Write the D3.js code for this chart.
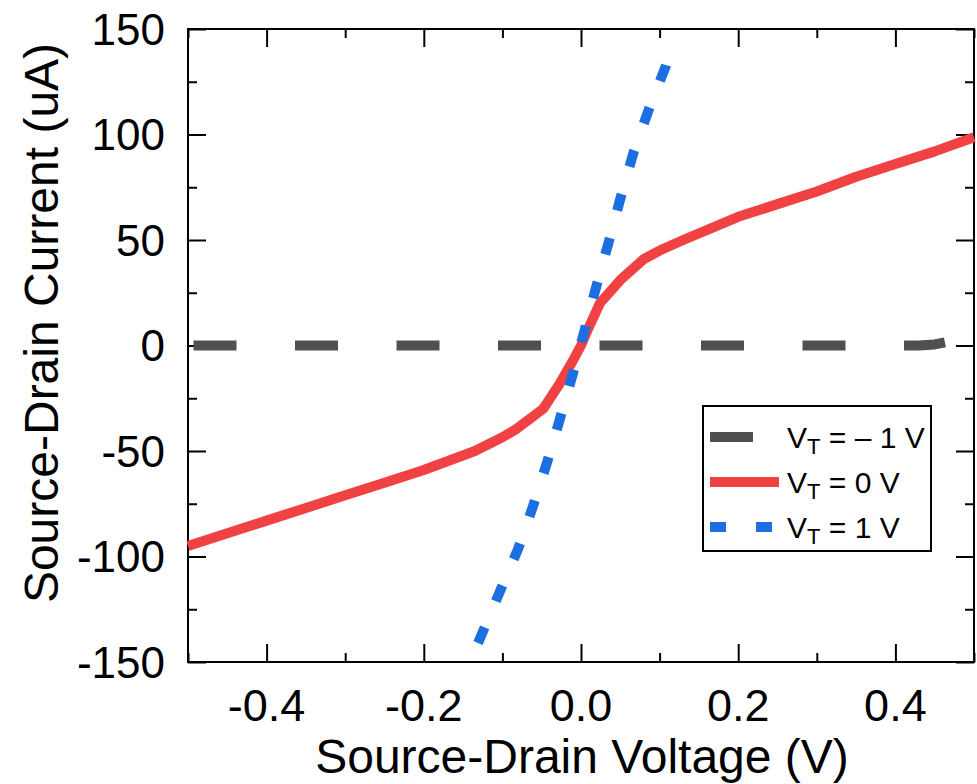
<!DOCTYPE html>
<html>
<head>
<meta charset="utf-8">
<script src="https://cdn.jsdelivr.net/npm/d3@7"></script>
<style>
  body { margin: 0; background: #fff; }
  svg { display: block; font-family: Arial, "Liberation Sans", sans-serif; }
</style>
</head>
<body>
<svg width="977" height="784"></svg>
<script>
// values
var xTicks = [-0.4, -0.2, 0.0, 0.2, 0.4],
    xTickLabels = ["-0.4", "-0.2", "0.0", "0.2", "0.4"],
    xMinor = [-0.5, -0.3, -0.1, 0.1, 0.3, 0.5],
    yTicks = [-150, -100, -50, 0, 50, 100, 150],
    yTickLabels = ["-150", "-100", "-50", "0", "50", "100", "150"],
    yMinor = [-125, -75, -25, 25, 75, 125];

// V_T = -1 V
var vNegX = [-0.5, -0.3, -0.1, 0.1, 0.3, 0.43, 0.45, 0.463],
    vNegY = [0, 0, 0, 0, 0, 0, 0.5, 1.5];

// V_T = 0 V
var vZeroX = [-0.5, -0.45, -0.4, -0.35, -0.3, -0.25, -0.2, -0.135, -0.1, -0.084, -0.048,
              -0.027, -0.01, 0, 0.008, 0.024, 0.05, 0.08, 0.1, 0.13, 0.2, 0.25, 0.3, 0.35, 0.4, 0.45, 0.5],
    vZeroY = [-95, -89, -83, -77, -71, -65, -59, -50, -43.5, -40, -30,
              -18, -7, 0, 7, 20, 31, 41, 45, 50, 61, 67, 73, 80, 86, 92, 98.7];

// V_T = 1 V
var vPosX = [-0.131, -0.103, -0.08, -0.061, -0.043, -0.028, -0.01, 0.005, 0.02, 0.036, 0.051, 0.067, 0.087, 0.108, 0.111],
    vPosY = [-141, -116.4, -96.4, -76.1, -55.2, -36.3, -13, 7.8, 28.7, 50, 70.9, 91.7, 112.6, 132.5, 136.7];

var svg = d3.select("svg");

var x = d3.scaleLinear().domain([-0.5, 0.5]).range([188, 974]),
    y = d3.scaleLinear().domain([-150, 150]).range([662, 29]);

var line = d3.line()
    .x(function(d) { return x(d[0]); })
    .y(function(d) { return y(d[1]); });

function pairs(xs, ys) {
    return xs.map(function(v, i) { return [v, ys[i]]; });
}

// axes: inward ticks on all four sides
function ticks(axis, vals, size, tr) {
    var g = svg.append("g")
        .attr("transform", tr)
        .call(axis.tickValues(vals).tickSize(-size).tickFormat(""));
    g.select(".domain").remove();
    g.selectAll("line").attr("stroke", "#000").attr("stroke-width", 2);
}
ticks(d3.axisBottom(x), xTicks, 18, "translate(0,662)");
ticks(d3.axisBottom(x), xMinor, 9, "translate(0,662)");
ticks(d3.axisTop(x), xTicks, 18, "translate(0,29)");
ticks(d3.axisTop(x), xMinor, 9, "translate(0,29)");
ticks(d3.axisLeft(y), yTicks, 18, "translate(188,0)");
ticks(d3.axisLeft(y), yMinor, 9, "translate(188,0)");
ticks(d3.axisRight(y), yTicks, 18, "translate(974,0)");
ticks(d3.axisRight(y), yMinor, 9, "translate(974,0)");

svg.append("rect")
    .attr("x", 188).attr("y", 29)
    .attr("width", 974 - 188).attr("height", 662 - 29)
    .attr("fill", "none").attr("stroke", "#000").attr("stroke-width", 2);

svg.append("g").selectAll("text")
    .data(xTicks)
    .enter().append("text")
    .attr("x", function(d) { return x(d); })
    .attr("y", 721)
    .attr("text-anchor", "middle")
    .attr("font-size", 45)
    .text(function(d, i) { return xTickLabels[i]; });

svg.append("g").selectAll("text")
    .data(yTicks)
    .enter().append("text")
    .attr("x", 165)
    .attr("y", function(d) { return y(d); })
    .attr("dy", "0.36em")
    .attr("text-anchor", "end")
    .attr("font-size", 44)
    .text(function(d, i) { return yTickLabels[i]; });

svg.append("text")
    .attr("x", 582).attr("y", 773)
    .attr("text-anchor", "middle")
    .attr("font-size", 48)
    .text("Source-Drain Voltage (V)");

svg.append("text")
    .attr("transform", "translate(58,323) rotate(-90)")
    .attr("text-anchor", "middle")
    .attr("font-size", 48)
    .text("Source-Drain Current (uA)");

// series
var series = [
    { name: "\u2013 1 V", pts: pairs(vNegX, vNegY), color: "#505050", dash: "43,58.5", offset: -5.5 },
    { name: "0 V", pts: pairs(vZeroX, vZeroY), color: "#f04243", dash: null, offset: 0 },
    { name: "1 V", pts: pairs(vPosX, vPosY), color: "#1b6fe0", dash: "17,28.5", offset: 0 }
];

var plot = svg.append("g");
series.forEach(function(s) {
    plot.append("path")
        .datum(s.pts)
        .attr("d", line)
        .attr("fill", "none")
        .attr("stroke", s.color)
        .attr("stroke-width", 10)
        .attr("stroke-linejoin", "round")
        .attr("stroke-dasharray", s.dash)
        .attr("stroke-dashoffset", s.offset);
});

// legend
var legend = svg.append("g");
legend.append("rect")
    .attr("x", 703).attr("y", 406)
    .attr("width", 228).attr("height", 145)
    .attr("fill", "#fff").attr("stroke", "#000").attr("stroke-width", 2);

var keyLen = [43, 69, 62];
series.forEach(function(s, i) {
    var ly = 437 + i * 45;
    legend.append("line")
        .attr("x1", 710).attr("x2", 710 + keyLen[i])
        .attr("y1", ly).attr("y2", ly)
        .attr("stroke", s.color)
        .attr("stroke-width", 10)
        .attr("stroke-dasharray", i === 2 ? "16,30" : null);
    var t = legend.append("text")
        .attr("x", 787).attr("y", ly + 11)
        .attr("font-size", 30);
    t.append("tspan").text("V");
    t.append("tspan").attr("font-size", 22).attr("dy", 6).text("T");
    t.append("tspan").attr("dy", -6).text(" = " + s.name);
});
</script>
</body>
</html>
